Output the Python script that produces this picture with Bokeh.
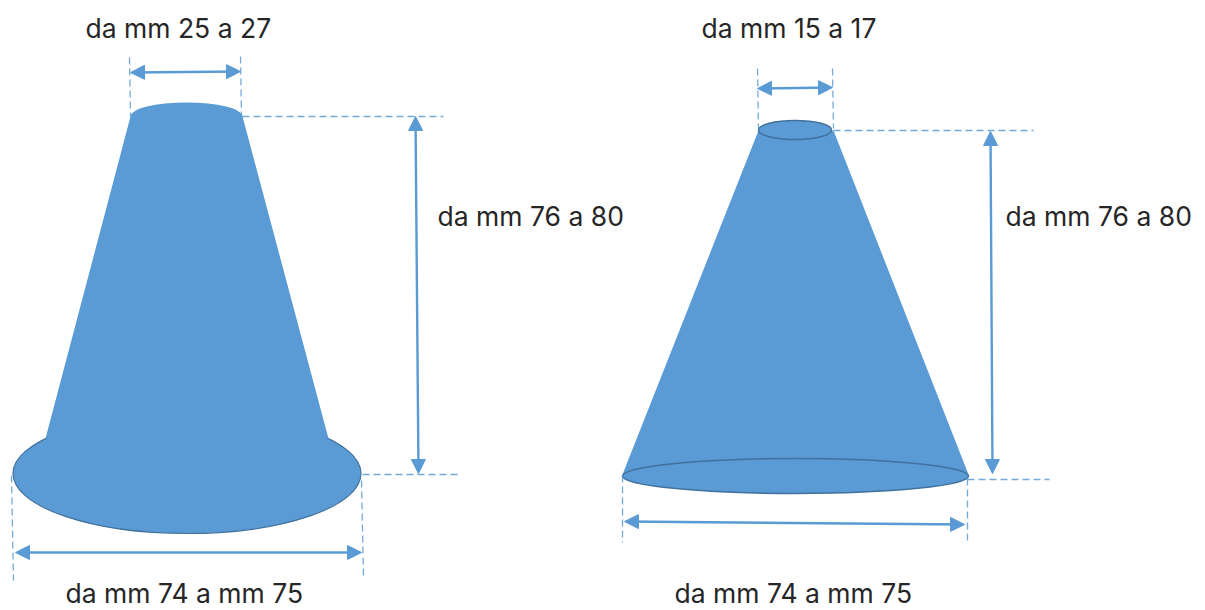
from bokeh.plotting import figure
from bokeh.models import Range1d, Arrow, NormalHead
from bokeh.core.properties import value
from bokeh.embed import file_html
from bokeh.resources import INLINE

BLUE = "#5B9BD5"
EDGE = "#41719C"
INK = "#262626"

# label texts and their anchor points (left x, centre y, page pixels)
labels = ["da mm 25 a 27", "da mm 76 a 80", "da mm 74 a mm 75",
          "da mm 15 a 17", "da mm 76 a 80", "da mm 74 a mm 75"]
label_x = [85, 437, 65, 701, 1005, 674]
label_y = [27, 215, 592, 27, 215, 592]

# cone bodies
left_body_x = [130, 242, 328, 45]
left_body_y = [116, 116, 438, 438]
right_body_x = [758, 833, 968, 622]
right_body_y = [130, 130, 474, 474]

# ellipses: centre x, centre y, width, height
flat_cap = [186, 116, 112, 28]
left_base = [186.5, 473, 348, 120]
right_top = [794.5, 129.5, 73, 19]
right_base = [795, 475.5, 346, 35]

# dashed guides: x0, y0, x1, y1
guides = [
    (129, 57, 130, 116), (240, 56, 241, 116), (242, 116, 443, 116),
    (362, 474, 461, 474), (11, 475, 13, 580), (361, 480, 363, 578),
    (757, 68, 758, 128), (832, 68, 833, 128), (833, 130, 1033, 130),
    (967, 479, 1049, 479), (622, 475, 622, 542), (967, 478, 967, 543),
]

# double-headed dimension arrows: x0, y0, x1, y1
dims = [
    (130, 72, 240, 71), (415, 116, 418, 473), (15, 552, 361, 552),
    (757, 88, 832, 87), (990, 131, 992, 473), (624, 521, 964, 524),
]

p = figure(width=1205, height=610, output_backend="svg", toolbar_location=None,
           x_range=Range1d(0, 1205), y_range=Range1d(610, 0),
           x_axis_location=None, y_axis_location=None, min_border=0)
p.grid.visible = False
p.outline_line_color = None

# left cone
p.ellipse([flat_cap[0]], [flat_cap[1]], width=[flat_cap[2]], height=[flat_cap[3]],
          fill_color=BLUE, line_color=None)
p.ellipse([left_base[0]], [left_base[1]], width=[left_base[2]], height=[left_base[3]],
          fill_color=BLUE, line_color=EDGE, line_width=1.2)
p.patch(left_body_x, left_body_y, fill_color=BLUE, line_color=None)

# right cone
p.patch(right_body_x, right_body_y, fill_color=BLUE, line_color=None)
p.ellipse([right_base[0]], [right_base[1]], width=[right_base[2]], height=[right_base[3]],
          fill_color=BLUE, line_color=EDGE, line_width=1.5)
p.ellipse([right_top[0]], [right_top[1]], width=[right_top[2]], height=[right_top[3]],
          fill_color=BLUE, line_color=EDGE, line_width=1.5)

for x0, y0, x1, y1 in guides:
    p.line([x0, x1], [y0, y1], line_color=BLUE, line_width=1.3, line_dash="7 4", line_alpha=0.85)

for x0, y0, x1, y1 in dims:
    p.add_layout(Arrow(
        x_start=x0, y_start=y0, x_end=x1, y_end=y1,
        line_color=BLUE, line_width=2.4,
        start=NormalHead(size=14, fill_color=BLUE, line_color=BLUE, line_width=1),
        end=NormalHead(size=14, fill_color=BLUE, line_color=BLUE, line_width=1),
    ))

p.text(label_x, label_y, text=labels, text_font=value("Inter"), text_font_size="26.5px",
       text_color=INK, text_align="left", text_baseline="middle")

open("out.html", "w").write(file_html(p, INLINE))
